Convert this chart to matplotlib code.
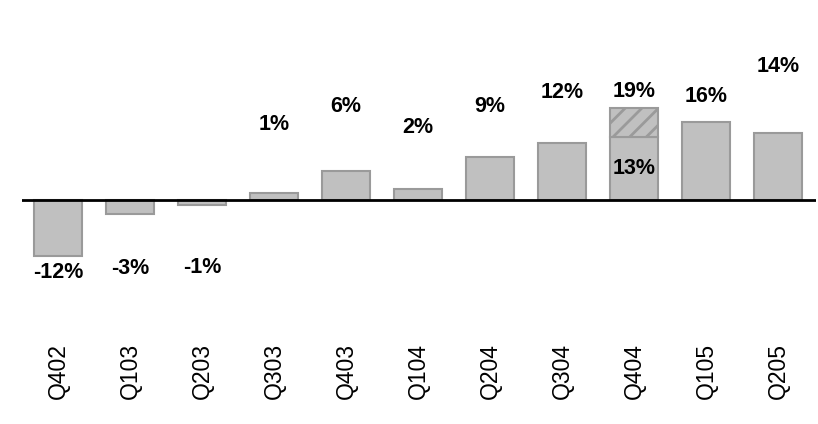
import matplotlib
matplotlib.use("Agg")
import matplotlib.pyplot as plt

quarters = ["Q402", "Q103", "Q203", "Q303", "Q403", "Q104", "Q204", "Q304", "Q404", "Q105", "Q205"]
growth = [-12, -3, -1, 1.5, 6.2, 2.4, 9.2, 12.2, 13.3, 16.5, 14.3]
labels = ["-12%", "-3%", "-1%", "1%", "6%", "2%", "9%", "12%", "13%", "16%", "14%"]
# extra hatched segment on Q404 (total 19%)
extra_idx = 8
extra_value = 6.2
extra_label = "19%"
# label vertical positions (in % units)
label_y = [-15.4, -14.5, -14.3, 16.0, 19.8, 15.5, 19.8, 22.8, 6.8, 22.1, 28.5]
extra_label_y = 23.0

plt.rcParams['font.family'] = ['Liberation Sans', 'DejaVu Sans']
plt.rcParams['hatch.color'] = '#9a9a9a'
plt.rcParams['hatch.linewidth'] = 2.0

fig = plt.figure(figsize=(8.18, 4.24), dpi=100)
ax = fig.add_axes([22/818, (424-300)/424, (816-22)/818, 260/424])

x = list(range(len(quarters)))
ax.bar(x, growth, width=0.68, color='#c0c0c0', edgecolor='#9a9a9a', linewidth=1.5, zorder=2)
ax.bar([extra_idx], [extra_value], bottom=[growth[extra_idx]], width=0.68,
       color='#c0c0c0', edgecolor='#9a9a9a', linewidth=1.5, hatch='//', zorder=2)

for xi, lab, ly in zip(x, labels, label_y):
    ax.text(xi, ly, lab, ha='center', va='center', fontsize=15.5, fontweight='bold', color='black')
ax.text(extra_idx, extra_label_y, extra_label, ha='center', va='center', fontsize=15.5,
        fontweight='bold', color='black')

ax.axhline(0, color='black', linewidth=2, zorder=3)

ax.set_xlim(-0.5, (816-58)/72)
ax.set_ylim(-100/4.7, 160/4.7)
ax.set_xticks(x)
ax.set_xticklabels(quarters, rotation=90, fontsize=16.5)
ax.tick_params(axis='x', length=0, pad=31)
ax.set_yticks([])
for s in ax.spines.values():
    s.set_visible(False)

fig.savefig("out.png", dpi=100)
